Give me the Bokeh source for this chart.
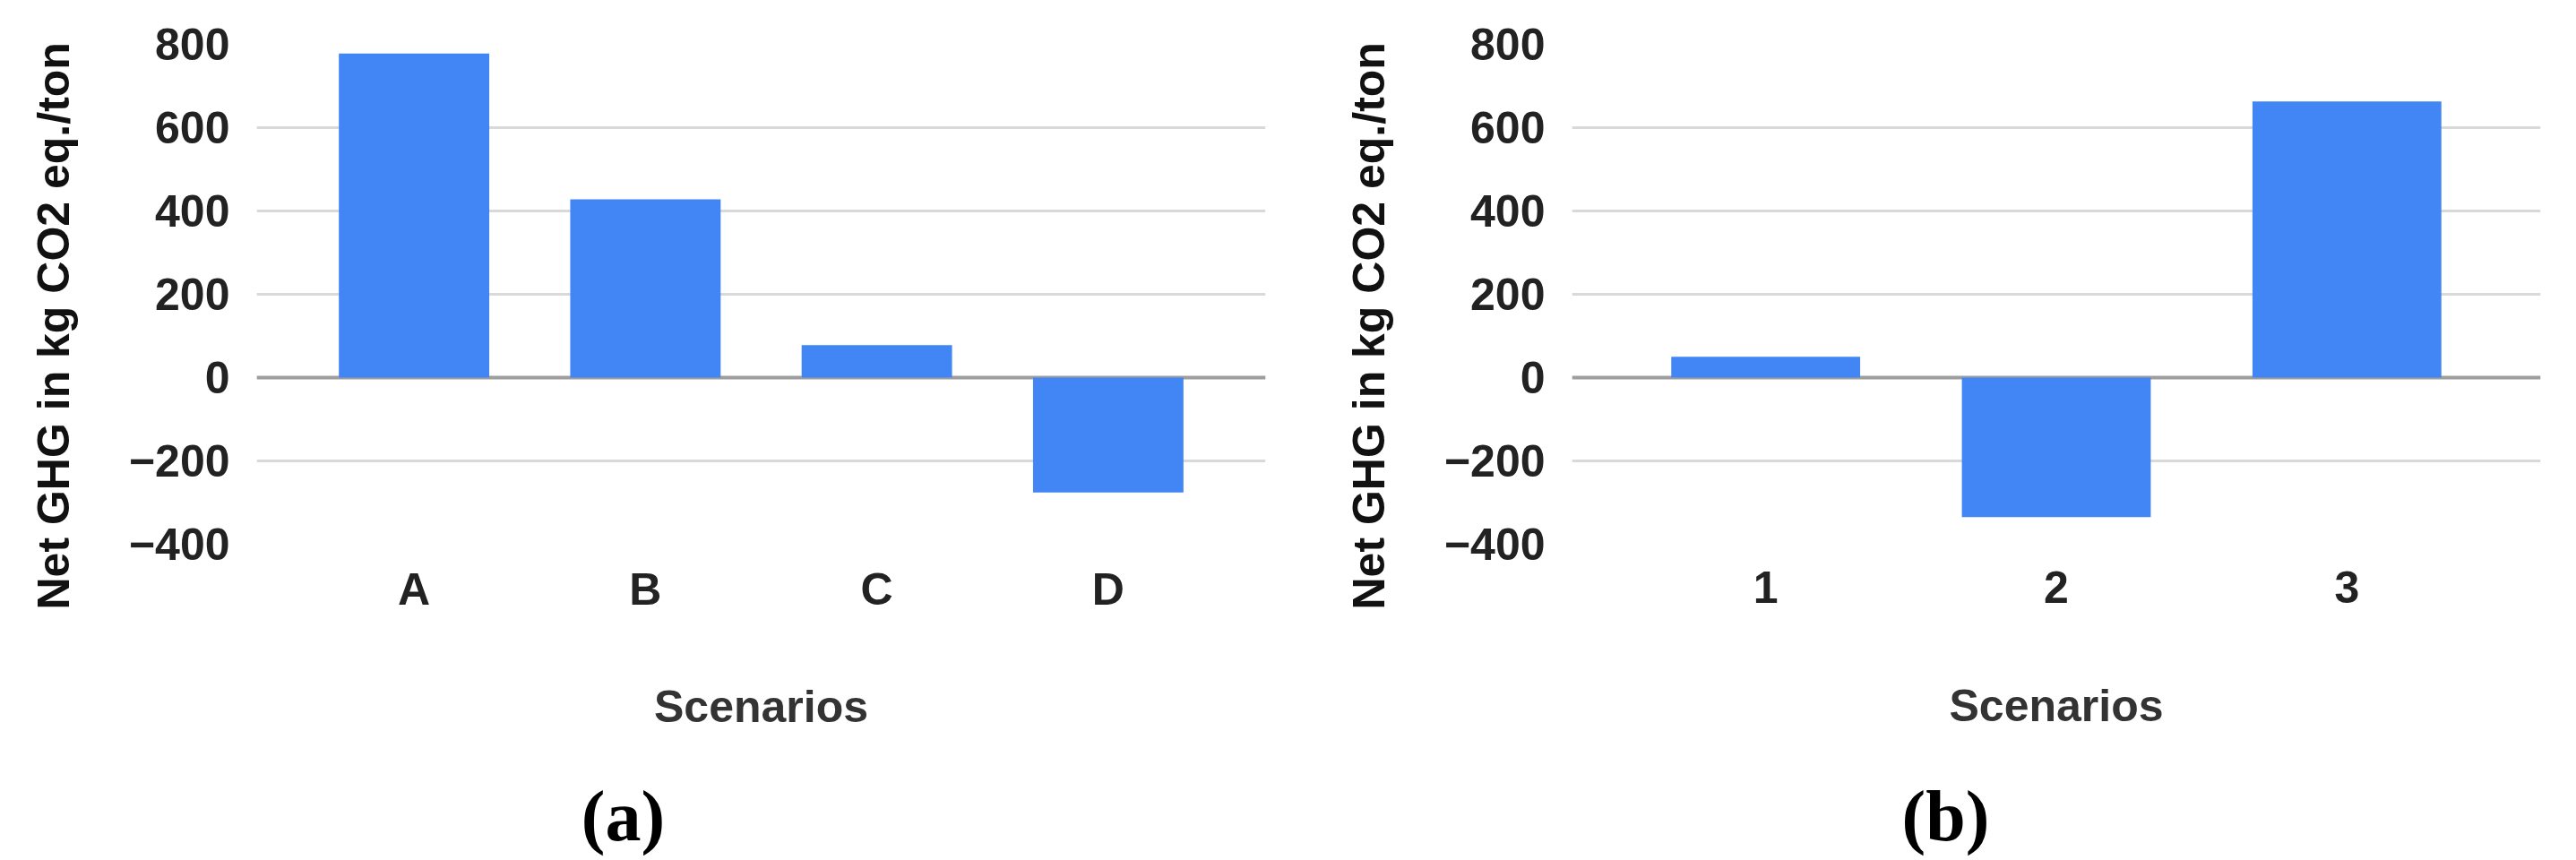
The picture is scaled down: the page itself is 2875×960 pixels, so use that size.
from bokeh.plotting import figure
from bokeh.models import FactorRange, Range1d, FixedTicker, Span, Title, Spacer
from bokeh.layouts import row, column
from bokeh.core.properties import value
from bokeh.embed import file_html
from bokeh.resources import INLINE

# ---- data ----
cats_a = ["A", "B", "C", "D"]
vals_a = [778, 428, 78, -276]
cats_b = ["1", "2", "3"]
vals_b = [50, -335, 663]
y_ticks = [-400, -200, 0, 200, 400, 600, 800]
y_tick_labels = {-400: "\u2212400", -200: "\u2212200", 0: "0", 200: "200",
                 400: "400", 600: "600", 800: "800"}
y_title = "Net GHG in kg CO2 eq./ton"
x_title = "Scenarios"
captions = ["(a)", "(b)"]

BAR = "#4285F4"
FONT = "Liberation Sans"
MAIN_H = 860
CAP_H = 100


def blank(width, height):
    c = figure(width=width, height=height,
               x_range=Range1d(0, width), y_range=Range1d(0, height),
               x_axis_location=None, y_axis_location=None,
               min_border=0, output_backend="svg", toolbar_location=None,
               outline_line_color=None, background_fill_color="white",
               border_fill_color="white")
    c.grid.visible = False
    return c


def ytitle_fig(width):
    t = blank(width, MAIN_H)
    t.add_layout(Title(text=y_title, align="left", offset=-73,
                       vertical_align="middle", standoff=60,
                       text_font=FONT, text_font_size="50px",
                       text_font_style="bold", text_color="#111111"), "left")
    return t


def panel(cats, vals, pad, width, br, lab_standoff, title_standoff):
    p = figure(x_range=FactorRange(factors=cats, range_padding=pad,
                                   range_padding_units="percent"),
               y_range=Range1d(-400, 800),
               width=width, height=MAIN_H,
               min_border_left=143, min_border_right=br,
               min_border_top=49, min_border_bottom=MAIN_H - 49 - 558,
               output_backend="svg", toolbar_location=None,
               outline_line_color=None, background_fill_color="white",
               border_fill_color="white")
    p.xgrid.grid_line_color = None
    p.ygrid.grid_line_color = "#d9d9d9"
    p.ygrid.grid_line_width = 3
    p.ygrid.ticker = FixedTicker(ticks=y_ticks)

    zero = Span(location=0, dimension="width", line_color="#9e9e9e",
                line_width=4, level="underlay")
    p.add_layout(zero)

    p.vbar(x=cats, top=vals, bottom=0, width=0.65, fill_color=BAR,
           line_color=None)

    ya = p.yaxis[0]
    ya.ticker = FixedTicker(ticks=y_ticks)
    ya.major_label_overrides = y_tick_labels
    ya.axis_line_color = None
    ya.major_tick_line_color = None
    ya.minor_tick_line_color = None
    ya.major_tick_out = 0
    ya.major_tick_in = 0
    ya.major_label_standoff = 30
    ya.major_label_text_font = FONT
    ya.major_label_text_font_size = "50px"
    ya.major_label_text_font_style = "bold"
    ya.major_label_text_color = "#222222"

    xa = p.xaxis[0]
    xa.axis_line_color = None
    xa.major_tick_line_color = None
    xa.minor_tick_line_color = None
    xa.major_tick_out = 0
    xa.major_tick_in = 0
    xa.major_label_standoff = lab_standoff
    xa.major_label_text_font = FONT
    xa.major_label_text_font_size = "50px"
    xa.major_label_text_font_style = "bold"
    xa.major_label_text_color = "#222222"
    xa.axis_label = x_title
    xa.axis_label_text_font = FONT
    xa.axis_label_text_font_size = "50px"
    xa.axis_label_text_font_style = "bold"
    xa.axis_label_text_color = "#333333"
    xa.axis_label_standoff = title_standoff
    return p


def caption_fig(width, text, cx):
    c = blank(width, CAP_H)
    c.text(x=[cx], y=[CAP_H / 2], text=[text], text_align="center",
           text_baseline="middle", text_font=value("Liberation Serif"),
           text_font_size="80px", text_font_style="bold",
           text_color="#000000")
    return c


# left half: 0..1435, right half: 1435..2867
T_W = 140
ta = ytitle_fig(T_W)
pa = panel(cats_a, vals_a, 0.09, 1435 - T_W, 23, 22, 72)
gap = Spacer(width=33, height=MAIN_H)
tb = ytitle_fig(T_W)
pb = panel(cats_b, vals_b, 0.111, 1432 - 33 - T_W, 32, 30, 84)
ca = caption_fig(1435, captions[0], 695)
cb = caption_fig(1432, captions[1], 2171 - 1435)

layout = column(row(ta, pa, gap, tb, pb), row(ca, cb))
open("out.html", "w").write(file_html(layout, INLINE))
